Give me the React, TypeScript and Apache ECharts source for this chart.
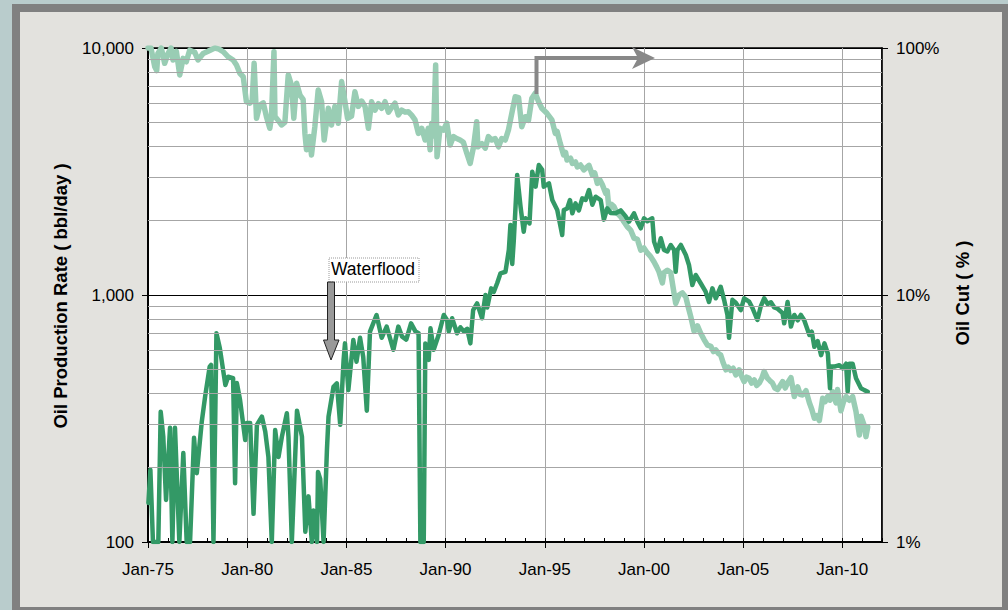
import React, { useEffect, useRef } from 'react';
import * as echarts from 'echarts';

// Oil production rate (bbl/day) - [year, value]
const oilRate: [number, number][] = [
  [1975.02, 144], [1975.12, 196], [1975.25, 100], [1975.52, 100], [1975.64, 337], [1975.77, 267],
  [1975.91, 148], [1976.11, 290], [1976.23, 100], [1976.36, 290], [1976.58, 100], [1976.78, 229],
  [1976.95, 100], [1977.12, 100], [1977.32, 264], [1977.46, 190], [1977.71, 307], [1977.88, 388],
  [1978.11, 513], [1978.18, 521], [1978.3, 100], [1978.45, 700], [1978.62, 610], [1978.9, 432],
  [1979.04, 467], [1979.29, 461], [1979.39, 173], [1979.48, 440], [1979.64, 376], [1979.9, 259],
  [1979.98, 303], [1980.15, 303], [1980.32, 130], [1980.49, 298], [1980.74, 322], [1980.91, 280],
  [1981.07, 221], [1981.24, 100], [1981.41, 284], [1981.58, 221], [1981.75, 267], [1982.0, 332],
  [1982.08, 267], [1982.25, 100], [1982.51, 340], [1982.76, 267], [1982.93, 110], [1983.09, 153],
  [1983.26, 100], [1983.34, 134], [1983.52, 100], [1983.57, 192], [1983.68, 180], [1983.85, 100],
  [1984.02, 236], [1984.1, 322], [1984.35, 425], [1984.52, 439], [1984.69, 298], [1984.86, 546],
  [1984.93, 637], [1985.1, 412], [1985.35, 657], [1985.51, 537], [1985.69, 671], [1985.85, 560],
  [1986.03, 340], [1986.19, 711], [1986.52, 830], [1986.78, 671], [1987.03, 745], [1987.37, 600],
  [1987.62, 745], [1987.81, 678], [1988.02, 660], [1988.26, 768], [1988.48, 712], [1988.64, 700],
  [1988.73, 100], [1988.9, 100], [1988.98, 637], [1989.15, 546], [1989.24, 733], [1989.4, 600],
  [1989.65, 689], [1989.91, 830], [1990.08, 790], [1990.16, 712], [1990.33, 805], [1990.58, 700],
  [1990.75, 740], [1990.92, 712], [1991.09, 730], [1991.25, 637], [1991.39, 869], [1991.59, 925],
  [1991.84, 805], [1992.01, 1000], [1992.1, 890], [1992.3, 1064], [1992.43, 1030], [1992.6, 1116],
  [1992.77, 1224], [1993.02, 1242], [1993.19, 1522], [1993.27, 1921], [1993.36, 1335], [1993.44, 1669],
  [1993.61, 3062], [1993.78, 2278], [1993.94, 1804], [1994.03, 2044], [1994.23, 1950], [1994.37, 3156],
  [1994.54, 2745], [1994.7, 3360], [1994.87, 3210], [1994.95, 2745], [1995.21, 2833], [1995.38, 2424],
  [1995.63, 2208], [1995.88, 1750], [1995.96, 2208], [1996.13, 2240], [1996.27, 2424], [1996.39, 2142],
  [1996.55, 2350], [1996.72, 2200], [1996.89, 2462], [1997.06, 2424], [1997.23, 2660], [1997.4, 2320],
  [1997.56, 2500], [1997.82, 2424], [1997.98, 2019], [1998.15, 2244], [1998.32, 2150], [1998.57, 2142],
  [1998.83, 2200], [1999.08, 2080], [1999.25, 1980], [1999.5, 2142], [1999.67, 1980], [1999.84, 1862],
  [2000.0, 2044], [2000.17, 1990], [2000.42, 2044], [2000.51, 1645], [2000.68, 1500], [2000.85, 1697],
  [2001.01, 1522], [2001.18, 1500], [2001.35, 1594], [2001.52, 1522], [2001.6, 1242], [2001.69, 1522],
  [2001.86, 1594], [2002.11, 1452], [2002.27, 1323], [2002.44, 1097], [2002.61, 1205], [2002.86, 1116],
  [2003.11, 1031], [2003.28, 937], [2003.45, 1064], [2003.62, 970], [2003.87, 1080], [2004.04, 956],
  [2004.21, 830], [2004.29, 671], [2004.46, 956], [2004.63, 930], [2004.88, 869], [2005.05, 970],
  [2005.3, 940], [2005.47, 886], [2005.72, 792], [2005.89, 900], [2006.06, 970], [2006.23, 920],
  [2006.4, 935], [2006.57, 890], [2006.74, 880], [2006.99, 844], [2007.07, 768], [2007.24, 937],
  [2007.41, 745], [2007.58, 830], [2007.75, 790], [2007.91, 830], [2008.08, 790], [2008.34, 689],
  [2008.46, 710], [2008.59, 617], [2008.76, 650], [2008.93, 571], [2009.1, 637], [2009.27, 580],
  [2009.38, 419], [2009.43, 513], [2009.6, 513], [2009.85, 520], [2010.02, 505], [2010.19, 527],
  [2010.27, 406], [2010.35, 527], [2010.52, 527], [2010.69, 460], [2010.94, 419], [2011.11, 412],
  [2011.28, 406],
];

// Oil cut (%) - [year, value]
const oilCut: [number, number][] = [
  [1975.0, 100], [1975.15, 100], [1975.34, 84], [1975.44, 81], [1975.5, 95], [1975.67, 100],
  [1975.84, 86.7], [1976.01, 95], [1976.16, 100], [1976.26, 89.4], [1976.43, 97], [1976.6, 77.8],
  [1976.77, 90.8], [1976.93, 88], [1977.1, 98], [1977.36, 96], [1977.52, 89.4], [1977.78, 95],
  [1978.03, 97], [1978.37, 100], [1978.58, 99], [1978.79, 96.6], [1979.04, 92], [1979.29, 89.4],
  [1979.46, 85.3], [1979.63, 79], [1979.8, 76.5], [1979.96, 60.6], [1980.13, 59.8], [1980.25, 61],
  [1980.35, 86.7], [1980.47, 51.9], [1980.64, 58.8], [1980.81, 60], [1980.97, 52.7], [1981.14, 47.3],
  [1981.22, 52], [1981.35, 96.6], [1981.4, 52.7], [1981.56, 51], [1981.73, 48.8], [1981.9, 50],
  [1982.07, 77.8], [1982.23, 70.8], [1982.35, 51.9], [1982.49, 72], [1982.66, 64.5], [1982.82, 62],
  [1982.91, 45.1], [1982.99, 38.7], [1983.16, 43.8], [1983.24, 36.9], [1983.41, 48], [1983.58, 67.6],
  [1983.75, 60.6], [1983.88, 42.4], [1984.09, 57], [1984.25, 48.8], [1984.42, 58], [1984.59, 49.6],
  [1984.76, 73.1], [1984.93, 60.6], [1985.06, 51.9], [1985.26, 53], [1985.43, 66.5], [1985.6, 58],
  [1985.77, 61], [1985.94, 58], [1986.11, 47.3], [1986.27, 60.6], [1986.44, 56], [1986.61, 59.5],
  [1986.78, 57], [1986.95, 60.6], [1987.12, 55], [1987.28, 57.5], [1987.45, 59.8], [1987.62, 53.6],
  [1987.79, 56], [1987.96, 55], [1988.12, 55.2], [1988.29, 53.5], [1988.46, 51.2], [1988.63, 45.1],
  [1988.8, 47.3], [1988.97, 42.4], [1989.13, 47.3], [1989.22, 38.7], [1989.3, 49.6], [1989.39, 44],
  [1989.5, 85.3], [1989.57, 36.3], [1989.72, 47.3], [1989.89, 46.5], [1990.06, 49.6], [1990.23, 40.5],
  [1990.4, 43.8], [1990.56, 43], [1990.73, 42.4], [1990.9, 41.5], [1991.07, 37.5], [1991.24, 34.1],
  [1991.41, 39.8], [1991.57, 50.3], [1991.63, 39.8], [1991.83, 41], [1992.0, 39.3], [1992.16, 43.8],
  [1992.33, 42.4], [1992.5, 43], [1992.67, 39.8], [1992.83, 43], [1993.01, 42.4], [1993.17, 46.6],
  [1993.34, 54.4], [1993.51, 63.5], [1993.68, 63], [1993.84, 48], [1994.02, 52.7], [1994.18, 51],
  [1994.35, 62.6], [1994.52, 65.6], [1994.69, 60.6], [1994.85, 57], [1995.11, 54.4], [1995.36, 51.2],
  [1995.53, 45.1], [1995.62, 46], [1995.78, 41.1], [1995.95, 36.9], [1996.05, 37.8], [1996.12, 35.2],
  [1996.3, 35.8], [1996.39, 34.1], [1996.55, 34.6], [1996.64, 33], [1996.8, 33.6], [1996.97, 32.1],
  [1997.1, 32.8], [1997.23, 33.5], [1997.4, 30.6], [1997.52, 31.2], [1997.65, 28.3], [1997.78, 29.2],
  [1997.9, 28], [1998.07, 25.8], [1998.15, 26.4], [1998.24, 22.1], [1998.36, 23.3], [1998.49, 22.8],
  [1998.62, 21.6], [1998.74, 21.1], [1998.86, 20.6], [1998.99, 19.8], [1999.16, 18.9], [1999.33, 18.3],
  [1999.5, 17.0], [1999.67, 16.8], [1999.84, 15.2], [2000.0, 15.5], [2000.17, 14.8], [2000.34, 14.3],
  [2000.51, 13.6], [2000.64, 13.0], [2000.76, 12.4], [2000.93, 11.2], [2001.01, 12.3], [2001.18, 12.6],
  [2001.35, 12.3], [2001.48, 10.6], [2001.6, 9.25], [2001.77, 10], [2001.94, 10.2], [2002.11, 9.8],
  [2002.24, 8.9], [2002.36, 8.17], [2002.53, 7.12], [2002.7, 7.5], [2002.86, 7.0], [2003.03, 6.6],
  [2003.2, 6.27], [2003.37, 6.2], [2003.5, 5.9], [2003.62, 6.0], [2003.75, 5.8], [2003.87, 5.71],
  [2004.0, 5.3], [2004.13, 4.98], [2004.25, 5.1], [2004.38, 4.95], [2004.5, 5.05], [2004.63, 4.75],
  [2004.8, 4.98], [2004.92, 4.7], [2005.05, 4.46], [2005.18, 4.65], [2005.3, 4.6], [2005.43, 4.4],
  [2005.56, 4.53], [2005.68, 4.3], [2005.81, 4.4], [2005.94, 4.6], [2006.06, 4.9], [2006.23, 4.6],
  [2006.35, 4.5], [2006.48, 4.4], [2006.6, 4.2], [2006.74, 4.14], [2006.87, 4.3], [2006.99, 4.46],
  [2007.12, 4.2], [2007.24, 4.4], [2007.41, 4.63], [2007.58, 3.88], [2007.75, 4.25], [2007.88, 3.95],
  [2008.0, 3.94], [2008.17, 4.1], [2008.34, 3.66], [2008.46, 3.45], [2008.59, 3.17], [2008.72, 3.25],
  [2008.84, 3.1], [2009.01, 3.82], [2009.13, 3.7], [2009.26, 3.88], [2009.38, 3.75], [2009.51, 4.06],
  [2009.68, 3.66], [2009.76, 4.14], [2009.93, 3.4], [2010.06, 3.7], [2010.19, 3.88], [2010.35, 3.75],
  [2010.52, 3.88], [2010.69, 3.37], [2010.86, 2.71], [2010.94, 3.23], [2011.11, 2.95], [2011.19, 2.67],
  [2011.28, 2.92],
];

const minorGridRate = [200, 300, 400, 500, 600, 700, 800, 900, 2000, 3000, 4000, 5000, 6000, 7000, 8000, 9000];

const xMin = 1975;
const xMax = 2012;
const rateMin = 100;
const rateMax = 10000;
const cutMin = 1;
const cutMax = 100;

const FONT = "Arial, 'Liberation Sans', sans-serif";
const DARK = '#339966';
const LIGHT = '#99cdb4';

// offset of chart div inside page
const OX = 20;
const OY = 12;

export default function App() {
  const ref = useRef<HTMLDivElement>(null);
  useEffect(() => {
    const chart = echarts.init(ref.current!, null, { renderer: 'svg' });
    const p = (x: number, y: number) => [x - OX, y - OY];
    chart.setOption({
      animation: false,
      backgroundColor: '#e3e2de',
      textStyle: { fontFamily: FONT },
      grid: {
        left: 128, top: 36, width: 734, height: 494,
        show: true, backgroundColor: '#ffffff', borderColor: '#000', borderWidth: 1.5,
      },
      xAxis: [
        {
          type: 'value', min: xMin, max: xMax, interval: 5,
          axisLine: { show: true, lineStyle: { color: '#000', width: 2 } },
          axisTick: { show: true, length: 6, lineStyle: { color: '#000', width: 1 } },
          axisLabel: {
            fontSize: 17, color: '#000', margin: 19, fontFamily: FONT,
            formatter: (v: number) => (Math.round(v) % 5 === 0 ? 'Jan-' + String(Math.round(v) % 100).padStart(2, '0') : ''),
            showMaxLabel: false,
          },
          splitLine: { show: true, lineStyle: { color: '#a6a6a6', width: 1 } },
        },
        {
          type: 'value', min: xMin, max: xMax, interval: 1, position: 'bottom',
          axisLine: { show: false },
          axisTick: { show: true, inside: true, length: 4, lineStyle: { color: '#000', width: 1 } },
          axisLabel: { show: false },
          splitLine: { show: false },
        },
      ],
      yAxis: [
        {
          type: 'log', logBase: 10, min: rateMin, max: rateMax, position: 'left',
          axisLine: { show: true, lineStyle: { color: '#000', width: 2 } },
          axisTick: { show: true, length: 6, lineStyle: { color: '#000' } },
          axisLabel: {
            fontSize: 17, color: '#000', margin: 14, fontFamily: FONT,
            formatter: (v: number) => Math.round(v).toLocaleString('en-US'),
          },
          splitLine: { show: true, lineStyle: { color: '#000', width: 1 } },
        },
        {
          type: 'log', logBase: 10, min: cutMin, max: cutMax, position: 'right',
          axisLine: { show: true, lineStyle: { color: '#000', width: 1.5 } },
          axisTick: { show: true, length: 6, lineStyle: { color: '#000' } },
          axisLabel: {
            fontSize: 17, color: '#000', margin: 14, fontFamily: FONT,
            formatter: (v: number) => Math.round(v) + '%',
          },
          splitLine: { show: false },
        },
      ],
      series: [
        {
          name: 'grid-minor', type: 'line', xAxisIndex: 0, yAxisIndex: 0, z: 1,
          data: [], symbol: 'none', silent: true,
          markLine: {
            silent: true, symbol: ['none', 'none'], label: { show: false },
            lineStyle: { color: '#a6a6a6', width: 1, type: 'solid' },
            emphasis: { disabled: true },
            data: minorGridRate.map((v) => ({ yAxis: v })),
          },
        },
        {
          name: 'Oil Cut', type: 'line', xAxisIndex: 0, yAxisIndex: 1, z: 3,
          data: oilCut, symbol: 'none', showSymbol: false, clip: true,
          lineStyle: { color: LIGHT, width: 5.5, join: 'round', cap: 'round' },
        },
        {
          name: 'Oil Rate', type: 'line', xAxisIndex: 0, yAxisIndex: 0, z: 4,
          data: oilRate, symbol: 'none', showSymbol: false, clip: true,
          lineStyle: { color: DARK, width: 4.5, join: 'round', cap: 'round' },
        },
      ],
      graphic: [
        {
          type: 'text', x: 60 - OX, y: 296 - OY, rotation: Math.PI / 2, z: 10,
          style: {
            text: 'Oil Production Rate ( bbl/day )', fontSize: 18.5, fontWeight: 'bold',
            fontFamily: FONT, fill: '#000', align: 'center', verticalAlign: 'middle',
          },
        },
        {
          type: 'text', x: 962 - OX, y: 293 - OY, rotation: Math.PI / 2, z: 10,
          style: {
            text: 'Oil Cut ( % )', fontSize: 18.5, fontWeight: 'bold',
            fontFamily: FONT, fill: '#000', align: 'center', verticalAlign: 'middle',
          },
        },
        {
          type: 'rect', z: 10,
          shape: { x: p(329, 258)[0], y: p(329, 258)[1], width: 90, height: 24 },
          style: { fill: '#fff', stroke: '#9a9a9a', lineWidth: 1, lineDash: [1, 1] },
        },
        {
          type: 'text', z: 11, x: p(331, 269)[0], y: p(331, 269)[1],
          style: { text: 'Waterflood', fontSize: 17.5, fontFamily: FONT, fill: '#000', align: 'left', verticalAlign: 'middle' },
        },
        {
          type: 'polygon', z: 11,
          shape: { points: [p(327.5, 282), p(334.5, 282), p(334.5, 340), p(339, 340), p(331, 360), p(323.5, 340), p(327.5, 340)] },
          style: { fill: '#999', stroke: '#222', lineWidth: 1 },
        },
        {
          type: 'polyline', z: 11,
          shape: { points: [p(536.5, 94), p(536.5, 58), p(640, 58)] },
          style: { stroke: '#888', lineWidth: 4, fill: 'none' },
        },
        {
          type: 'polygon', z: 11,
          shape: { points: [p(632, 47), p(655, 58), p(632, 69), p(638, 58)] },
          style: { fill: '#888' },
        },
      ],
    });
    return () => chart.dispose();
  }, []);
  return (
    <div style={{ position: 'fixed', left: 0, top: 0, width: 1008, height: 610, background: '#b9cccc', overflow: 'hidden' }}>
      <div style={{ position: 'absolute', left: 12, top: 4, width: 996, height: 606, background: '#808080' }} />
      <div ref={ref} style={{ position: 'absolute', left: OX, top: OY, width: 982, height: 595 }} />
    </div>
  );
}
